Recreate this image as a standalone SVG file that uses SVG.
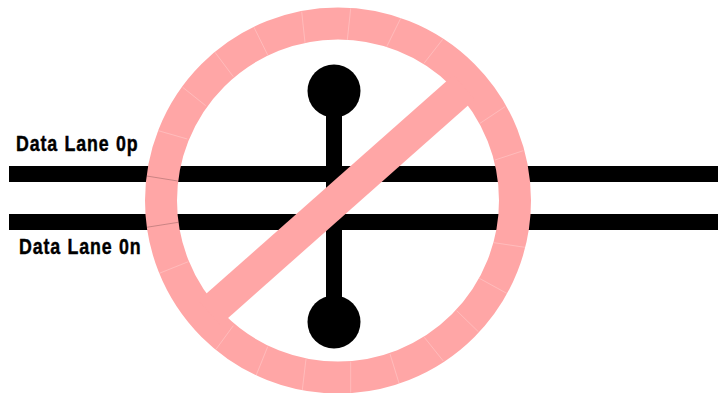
<svg xmlns="http://www.w3.org/2000/svg" width="721" height="393" viewBox="0 0 721 393">
<style>
.wire{fill:#000}
.label{font-family:"Liberation Sans",Arial,sans-serif;font-weight:700;font-size:22.5px;letter-spacing:1.1px;word-spacing:1px;fill:#000;stroke:#000;stroke-width:.45}
.seam{stroke:#fff;stroke-opacity:.35;stroke-width:.7;fill:none}
.seam-dark{stroke:#000;stroke-opacity:.3;stroke-width:.7;fill:none}
</style>
<rect width="721" height="393" fill="#fff"/>
<g id="connectors">
<rect class="wire" x="9" y="166" width="709" height="16"/>
<rect class="wire" x="9" y="214" width="709" height="16"/>
<rect class="wire" x="326" y="100" width="16" height="222"/>
</g>
<g id="via-top"><circle cx="334" cy="91" r="26.5"/></g>
<g id="via-bottom"><circle cx="334" cy="322" r="26.5"/></g>
<g id="label-p"><text class="label" transform="translate(16 150.5) scale(.79 1)">Data Lane 0p</text></g>
<g id="label-n"><text class="label" transform="translate(19 254) scale(.79 1)">Data Lane 0n</text></g>
<g id="no-symbol">
<circle cx="338" cy="200.5" r="177" fill="none" stroke="#ffa6a6" stroke-width="32"/>
<polygon points="453.5,75.1 474.8,99.4 220.2,324.9 198.5,300.6" fill="#ffa6a6"/>
<path class="seam" d="M301.7 11.7L305 42.7M350.7 8.3L347.3 40M254 27.3L267.7 55M215 52.3L233.3 76.7M182.7 87.3L205.7 105.7M158.3 130.7L187.3 139M400.7 18.3L386.7 46.7M442.7 39.3L424 63.3M505 106.7L480 123.3M523.3 150.7L495 160M159.3 273.3L188.3 261.7M233.3 325.7L216 349.3M267.7 346.7L256 375.7M306 359L302.3 390M350.7 361.7L350.7 392.7M390 354L399.3 384M424.3 337.3L443.3 361M456.7 310.7L478.3 331.7M479.3 278.3L506.7 293.3M494 242.7L525 247.3"/>
<path class="seam-dark" d="M146.7 176L177.7 181M146.7 227.3L178.3 222.3"/>
</g>
</svg>
